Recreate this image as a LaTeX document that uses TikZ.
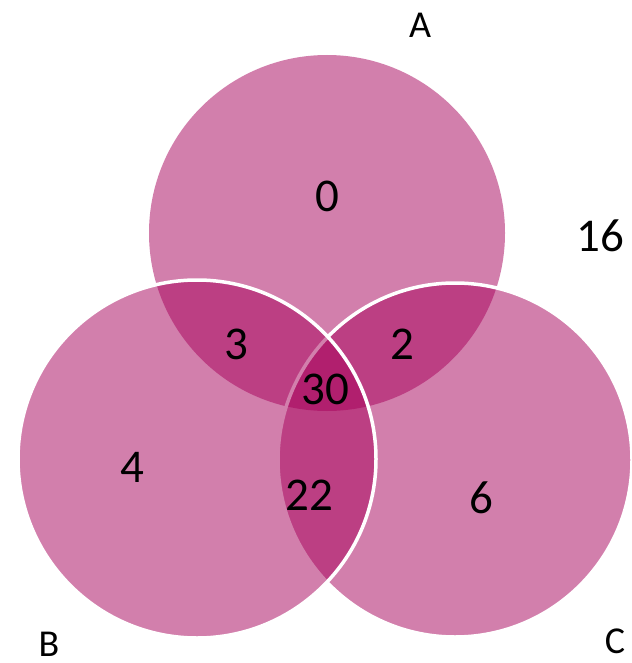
\documentclass[tikz,border=0pt]{standalone}
\usepackage{fontspec}
\setmainfont{Carlito}
\definecolor{vennpink}{RGB}{166,0,90}
\begin{document}
\begin{tikzpicture}[x=1pt,y=-1pt,
  venn/.style={circle, inner sep=0pt, outer sep=0pt, fill=vennpink, fill opacity=0.5, text opacity=1},
  vennborder/.style={venn, draw=white, draw opacity=1, line width=3.5pt},
  num/.style={inner sep=0pt, font=\fontsize{47}{47}\selectfont},
  lab/.style={inner sep=0pt, font=\fontsize{38}{38}\selectfont}]
\useasboundingbox (0,0) rectangle (631,663);
\node[venn, minimum size=356pt] (A) at (327,233) {};
\node[vennborder, minimum size=354pt] (C) at (455,460) {};
\node[vennborder, minimum size=358pt] (B) at (197,459) {};
\node[lab] (la) at (420,25) {A};
\node[lab] (lb) at (49,644) {B};
\node[lab] (lc) at (615,641) {C};
\node[num] (n16) at (600,236) {16};
\node[num] (n0) at (327,196) {0};
\node[num] (n3) at (236,344) {3};
\node[num] (n2) at (402,344) {2};
\node[num] (n30) at (325,389) {30};
\node[num] (n4) at (132,467) {4};
\node[num] (n22) at (309,495) {22};
\node[num] (n6) at (481,498) {6};
\end{tikzpicture}
\end{document}
